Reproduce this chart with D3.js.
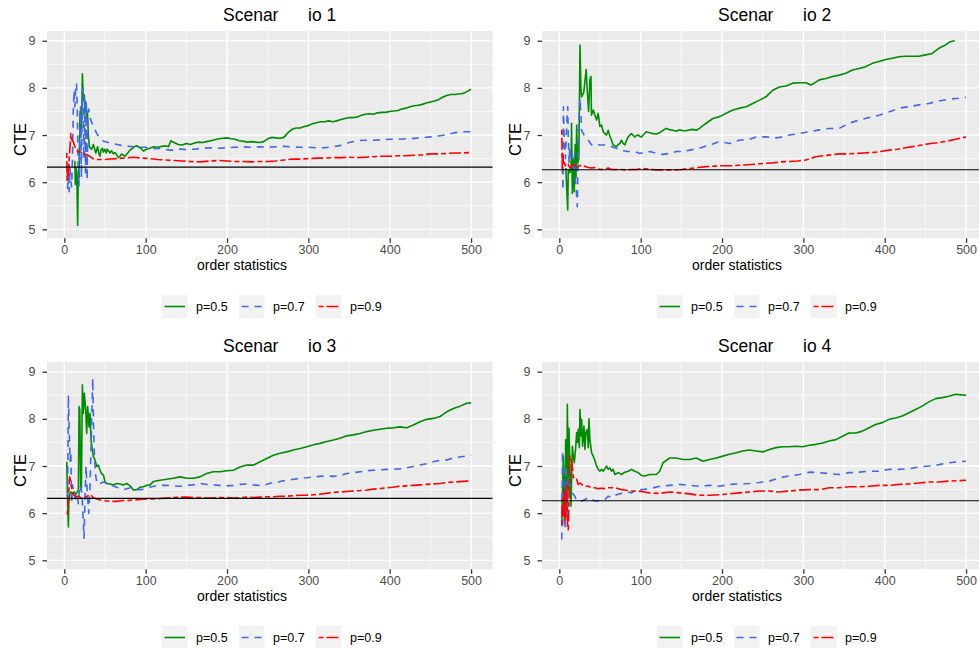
<!DOCTYPE html>
<html><head><meta charset="utf-8">
<script src="https://cdn.jsdelivr.net/npm/d3@7"></script>
<style>body{margin:0;background:#fff}svg{display:block}text{font-family:"Liberation Sans",Arial,Helvetica,sans-serif}</style>
</head><body><svg id="c" width="979" height="648"></svg>
<script>
const seriesNames = ["p=0.5", "p=0.7", "p=0.9"];
const titleWords = [["Scenar", "io 1"], ["Scenar", "io 2"], ["Scenar", "io 3"], ["Scenar", "io 4"]];
const xLabel = "order statistics";
const yLabel = "CTE";
const xTicks = [0, 100, 200, 300, 400, 500];
const yTicks = [5, 6, 7, 8, 9];
const refLines = [6.32, 6.264, 6.315, 6.264];

const s1_p05 = [[13,6.45],[13.5,5.95],[14.5,6.3],[15.5,6.0],[16.4,5.08],[17.2,6.25],[18.2,6.1],[19.3,7.5],[20.2,7.0],[21.2,7.2],[22.2,8.3],[23.4,7.75],[24.5,7.85],[25.4,7.5],[26.5,7.7],[27.5,7.35],[28.5,7.45],[29.5,7.0],[30.8,6.75],[32,6.72],[33.6,6.7],[35.7,6.8],[37,6.72],[38.6,6.62],[40,6.7],[41,6.75],[42.5,6.6],[43.9,6.55],[45,6.68],[46.8,6.72],[48,6.64],[50,6.7],[51.5,6.62],[52.9,6.7],[54.5,6.66],[56.2,6.62],[58,6.67],[60.3,6.6],[62,6.63],[64.4,6.58],[66.4,6.52],[68.5,6.55],[70.5,6.6],[72.6,6.57],[74.6,6.55],[77,6.6],[80.8,6.68],[84,6.72],[86.9,6.76],[89,6.77],[91,6.75],[94,6.72],[97.2,6.66],[101.3,6.7],[105,6.72],[110,6.75],[115,6.74],[120,6.76],[125,6.77],[128,6.75],[131,6.88],[135,6.84],[140,6.8],[145,6.79],[150,6.82],[155,6.8],[160,6.83],[165,6.85],[170,6.84],[175,6.86],[180,6.88],[185,6.9],[190,6.92],[195,6.93],[200,6.94],[205,6.92],[210,6.91],[215,6.88],[220,6.87],[225,6.85],[230,6.86],[235,6.85],[240,6.84],[245,6.86],[250,6.92],[255,6.95],[260,6.94],[265,6.93],[270,6.95],[275,7.05],[280,7.12],[285,7.15],[290,7.15],[295,7.18],[300,7.2],[305,7.24],[310,7.26],[315,7.28],[320,7.28],[325,7.3],[330,7.28],[335,7.3],[340,7.33],[345,7.35],[350,7.37],[355,7.37],[360,7.38],[365,7.42],[370,7.44],[375,7.45],[380,7.44],[385,7.47],[390,7.48],[395,7.48],[400,7.5],[405,7.51],[410,7.52],[415,7.55],[420,7.57],[425,7.6],[430,7.62],[435,7.63],[440,7.65],[445,7.68],[450,7.7],[455,7.72],[460,7.75],[465,7.8],[470,7.84],[475,7.86],[480,7.86],[485,7.87],[490,7.88],[495,7.92],[500,7.97]];
const s1_p07 = [[4,5.85],[5,6.4],[6,5.8],[7,6.3],[8,6.0],[9,5.9],[10,6.5],[11,7.5],[12,7.95],[13,7.6],[14,8.0],[15,8.1],[16,7.5],[17,6.2],[18,5.9],[19,7.0],[20,7.6],[21,6.1],[22,7.9],[23,8.0],[24,6.5],[25,7.8],[26,6.2],[27,7.7],[28,6.05],[29,7.5],[30,7.55],[32,7.35],[35,7.2],[38,7.1],[41,7.0],[44,6.92],[48,6.87],[52,6.85],[56,6.83],[60,6.82],[65,6.8],[70,6.78],[75,6.77],[80,6.76],[85,6.75],[90,6.76],[95,6.74],[100,6.74],[105,6.72],[110,6.71],[115,6.72],[120,6.7],[125,6.69],[130,6.68],[135,6.68],[140,6.7],[145,6.7],[150,6.69],[160,6.7],[170,6.72],[180,6.73],[190,6.72],[200,6.73],[210,6.74],[220,6.75],[230,6.74],[240,6.75],[250,6.74],[260,6.75],[270,6.76],[280,6.75],[290,6.74],[300,6.74],[310,6.73],[320,6.73],[330,6.75],[340,6.78],[350,6.84],[360,6.88],[370,6.89],[380,6.89],[390,6.9],[400,6.91],[410,6.91],[420,6.92],[430,6.93],[440,6.94],[450,6.96],[460,6.98],[470,7.01],[480,7.05],[490,7.07],[500,7.07]];
const s1_p09 = [[3,6.62],[3.5,6.0],[4,6.3],[5,6.1],[6,6.5],[8,7.03],[9,6.9],[11,6.86],[13,6.75],[15,6.68],[17,6.64],[19,6.65],[21,6.62],[23,6.62],[25,6.6],[27.5,6.58],[30,6.56],[32,6.54],[35,6.5],[40,6.48],[45,6.48],[50,6.48],[56,6.49],[64,6.5],[72,6.51],[80,6.52],[85,6.53],[90,6.52],[97,6.51],[105,6.5],[115,6.48],[125,6.47],[135,6.46],[145,6.45],[155,6.44],[167,6.43],[180,6.45],[190,6.46],[200,6.45],[210,6.44],[220,6.44],[230,6.43],[240,6.44],[250,6.44],[260,6.45],[270,6.47],[280,6.49],[290,6.49],[300,6.5],[310,6.51],[320,6.51],[330,6.52],[340,6.52],[350,6.53],[360,6.52],[370,6.53],[380,6.54],[390,6.55],[400,6.55],[410,6.56],[420,6.56],[430,6.57],[440,6.58],[450,6.6],[460,6.6],[470,6.61],[480,6.62],[490,6.62],[500,6.63]];

const s2_p05 = [[8,6.3],[9,5.9],[10.3,5.41],[11,6.26],[13,6.2],[14.5,6.3],[15,7.25],[16,5.76],[17,6.5],[18.4,5.8],[19.5,6.8],[20.5,6.1],[21.3,7.21],[22.5,6.4],[24,6.5],[25.4,8.91],[26.5,8.0],[27.4,7.81],[30,7.9],[33,8.39],[34.8,7.81],[36,7.5],[37.6,8.17],[38.9,8.24],[39.5,7.42],[41.7,7.53],[43.8,7.42],[45.8,7.32],[47.8,7.46],[49.9,7.18],[51.9,7.21],[54,7.07],[56,7.03],[58,7.0],[60.1,7.1],[62,6.98],[64.2,6.89],[66.2,6.79],[68.3,6.77],[70.3,6.75],[72.5,6.8],[74.4,6.82],[76.4,6.89],[78.5,6.82],[80.5,6.79],[82.5,6.88],[84.6,6.96],[86.7,7.0],[88.7,7.03],[90.8,6.99],[92.8,6.96],[94.9,6.99],[96.9,7.0],[99,6.97],[101,6.96],[103,7.0],[107,7.07],[111,7.05],[115.2,7.03],[119,7.02],[123.4,7.05],[127.5,7.1],[131.6,7.14],[135.7,7.11],[139.7,7.1],[143.8,7.08],[148,7.11],[152,7.09],[156.1,7.09],[160.2,7.11],[164.3,7.12],[168.3,7.1],[172.4,7.14],[176.5,7.2],[180.6,7.25],[188.8,7.35],[197,7.39],[205.1,7.46],[213.3,7.53],[221.4,7.57],[229.6,7.6],[237.8,7.67],[246,7.74],[254.1,7.81],[262.3,7.95],[270.5,8.02],[278.6,8.04],[286.8,8.1],[295,8.11],[303.1,8.11],[309.3,8.06],[313.4,8.1],[319.5,8.17],[327.7,8.2],[335.8,8.24],[344,8.27],[352.2,8.31],[360.3,8.38],[368.5,8.41],[376.7,8.45],[384.8,8.52],[393,8.56],[401.2,8.6],[409.4,8.63],[417.5,8.66],[425.7,8.67],[433.9,8.67],[442,8.67],[450.2,8.7],[458.4,8.73],[466.5,8.84],[474.7,8.91],[480.8,8.98],[486,9.0]];
const s2_p07 = [[3.5,6.6],[4.5,5.83],[5,7.6],[6,6.9],[7.5,6.5],[8.5,7.0],[10.3,7.6],[11,7.0],[12,6.4],[13,6.75],[14,6.6],[15,6.5],[16,6.6],[17,6.3],[18,6.45],[19,6.3],[20,6.0],[21,5.8],[22.1,5.48],[23,6.5],[24,7.3],[25.4,7.78],[26.6,7.4],[27.4,7.1],[29.5,7.03],[31.5,6.96],[35.6,6.89],[39.7,6.79],[43.8,6.82],[49.9,6.79],[56,6.79],[64.2,6.75],[70.3,6.72],[76.4,6.67],[84.6,6.65],[92.8,6.65],[98.9,6.61],[105,6.63],[111.2,6.65],[119.3,6.61],[127.5,6.59],[135.7,6.61],[143.8,6.65],[152,6.65],[160.2,6.68],[172.4,6.72],[184.7,6.79],[197,6.86],[209.2,6.82],[221.4,6.89],[233.7,6.91],[241.9,6.96],[254.1,6.96],[266.4,6.94],[274.5,6.96],[282.7,7.0],[295,7.03],[307.2,7.07],[319.5,7.11],[331.7,7.14],[344,7.14],[356.2,7.25],[368.5,7.32],[380.8,7.37],[393,7.42],[405.3,7.49],[417.5,7.57],[429.8,7.6],[442,7.64],[454.3,7.67],[466.5,7.72],[478.8,7.76],[491.1,7.78],[500,7.8]];
const s2_p09 = [[3,7.11],[3.7,6.26],[4.3,6.6],[4.9,6.4],[6,6.45],[7,6.36],[9,6.33],[11,6.38],[13,6.3],[15.2,6.33],[17,6.37],[19.2,6.36],[21,6.3],[23.3,6.33],[25,6.35],[27.4,6.36],[29.5,6.33],[31.5,6.34],[33.5,6.32],[35.6,6.31],[39.7,6.3],[43.8,6.31],[47.8,6.28],[51.9,6.27],[56,6.28],[60,6.3],[64.2,6.27],[70.3,6.27],[76.4,6.27],[82.5,6.26],[88.7,6.27],[94.8,6.27],[101,6.29],[109,6.28],[119.3,6.26],[129.5,6.26],[139.7,6.26],[150,6.27],[160.2,6.29],[170.4,6.31],[180.6,6.33],[190.8,6.34],[201,6.35],[211.2,6.35],[221.4,6.36],[231.6,6.37],[241.9,6.38],[252.1,6.4],[262.3,6.41],[272.5,6.43],[282.7,6.44],[292.9,6.45],[303.1,6.47],[315.4,6.54],[323.6,6.56],[333.8,6.58],[344,6.6],[354.2,6.6],[364.4,6.61],[374.6,6.62],[384.8,6.63],[395,6.65],[405.3,6.68],[415.5,6.7],[425.7,6.73],[435.9,6.76],[446.1,6.79],[456.3,6.82],[466.5,6.84],[476.7,6.87],[487,6.91],[500,6.96]];

const s3_p05 = [[3,7.09],[3.7,6.5],[4.5,6.0],[5,5.71],[5.5,6.2],[6.5,6.4],[8,6.45],[10,6.42],[12,6.45],[14,6.4],[16,6.45],[17.3,6.5],[18.1,8.26],[19,8.2],[20.1,6.5],[21,6.55],[22.2,8.72],[23.4,8.12],[24.6,8.54],[26.3,8.19],[27.5,7.69],[28.7,8.26],[30.4,7.83],[31.6,8.12],[32.8,7.55],[34.5,7.34],[35.7,7.2],[37.7,7.13],[39.8,6.99],[41.8,7.02],[43.9,6.91],[45.9,6.84],[48,6.81],[50,6.67],[52.1,6.63],[56.2,6.62],[60.3,6.6],[64.4,6.63],[68.5,6.62],[72.6,6.6],[76.7,6.63],[80.8,6.58],[84.9,6.49],[89,6.5],[93.1,6.55],[97.2,6.56],[101.3,6.59],[105.4,6.6],[109.5,6.67],[117.7,6.7],[125.9,6.72],[134,6.74],[142.2,6.77],[150.4,6.74],[158.6,6.74],[166.8,6.77],[175,6.84],[183.2,6.88],[191.4,6.88],[199.6,6.9],[207.8,6.91],[216,6.98],[224.2,7.02],[232.4,7.02],[240.6,7.09],[248.8,7.16],[257,7.23],[265.2,7.27],[273.4,7.3],[281.6,7.34],[289.8,7.37],[298,7.41],[306.2,7.45],[314.4,7.48],[322.5,7.52],[330.7,7.55],[338.9,7.59],[347.1,7.64],[355.3,7.66],[363.5,7.69],[371.7,7.73],[379.9,7.76],[388.1,7.78],[396.3,7.8],[404.5,7.81],[412.7,7.83],[420.9,7.81],[429.1,7.87],[437.3,7.94],[445.5,7.99],[453.7,8.01],[461.9,8.05],[470.1,8.15],[478.3,8.22],[486.5,8.27],[494.7,8.33],[500,8.34]];
const s3_p07 = [[4,6.3],[5,8.5],[6,7.8],[7,7.1],[8,7.3],[9,6.2],[10,6.6],[12,6.4],[14,6.3],[16,6.4],[17.2,6.2],[19,6.6],[21,6.5],[22,6.3],[24.2,5.47],[25.5,6.4],[26.7,7.0],[28,6.5],[30,6.0],[31.5,6.5],[33,7.5],[34.9,8.86],[36,7.76],[37,7.2],[38.5,6.8],[40,6.65],[43,6.6],[46,6.65],[49,6.66],[53,6.62],[56,6.6],[60,6.58],[64,6.55],[68,6.53],[73,6.5],[77,6.52],[81,6.54],[85,6.53],[90,6.5],[95,6.5],[100,6.52],[105,6.55],[110,6.57],[118,6.59],[125,6.59],[134,6.58],[142,6.57],[150,6.59],[158,6.6],[167,6.63],[175,6.61],[183,6.6],[191,6.59],[200,6.58],[208,6.59],[216,6.61],[224,6.62],[232,6.6],[240,6.59],[248,6.61],[257,6.65],[265,6.67],[273,6.7],[282,6.72],[290,6.74],[298,6.75],[306,6.77],[314,6.78],[322,6.79],[331,6.78],[339,6.8],[347,6.84],[355,6.86],[364,6.88],[372,6.9],[380,6.91],[388,6.92],[396,6.93],[404,6.93],[412,6.94],[420,6.96],[429,6.99],[437,7.02],[445,7.05],[453,7.09],[462,7.12],[470,7.13],[478,7.17],[486,7.19],[494,7.21],[500,7.23]];
const s3_p09 = [[3,6.0],[3.7,5.98],[4.5,6.3],[5.5,6.45],[6.5,6.77],[7.5,6.7],[8.5,6.6],[10,6.45],[12,6.38],[15,6.35],[17,6.36],[19,6.34],[21,6.32],[23,6.31],[25,6.33],[27,6.35],[29,6.37],[31.6,6.4],[33.5,6.37],[36,6.32],[40,6.3],[44,6.28],[48,6.27],[52,6.26],[56,6.25],[60,6.25],[64,6.25],[68,6.26],[73,6.27],[78,6.27],[85,6.28],[93,6.29],[101,6.3],[110,6.3],[118,6.31],[126,6.32],[134,6.33],[142,6.34],[150,6.34],[158,6.33],[167,6.33],[175,6.32],[183,6.32],[191,6.33],[200,6.33],[208,6.32],[216,6.33],[224,6.34],[232,6.33],[240,6.34],[249,6.35],[257,6.35],[265,6.36],[273,6.36],[282,6.37],[290,6.38],[298,6.38],[306,6.39],[314,6.4],[322,6.42],[331,6.44],[339,6.45],[347,6.46],[355,6.47],[364,6.48],[372,6.49],[380,6.51],[388,6.52],[396,6.54],[404,6.55],[412,6.57],[420,6.58],[429,6.59],[437,6.6],[445,6.61],[453,6.62],[462,6.63],[470,6.65],[478,6.66],[486,6.67],[494,6.68],[500,6.69]];

const s4_p05 = [[3,5.73],[4,6.5],[4.9,7.21],[5.8,6.5],[7,5.9],[7.8,7.56],[9,5.94],[9.85,8.31],[11.1,6.5],[11.9,7.8],[13.1,6.86],[14.3,6.15],[16,7.42],[17.2,7.21],[18.4,7.07],[20.1,7.39],[21.3,7.71],[22.1,7.5],[23.3,7.78],[24.6,7.39],[25.4,8.2],[26.6,7.64],[27.4,7.99],[28.6,7.42],[30.3,7.85],[31.5,7.35],[32.7,7.71],[34.4,7.78],[35.6,7.39],[36.4,8.0],[37.6,7.56],[39.7,7.28],[41.7,7.21],[43.8,7.11],[45.8,7.0],[47.8,6.93],[49.9,6.89],[51.9,6.93],[54,6.89],[56,6.94],[58,7.0],[60.1,6.93],[62.1,6.96],[64.2,6.89],[66.2,6.93],[68.3,6.82],[72.4,6.86],[76.4,6.82],[80.5,6.87],[84.6,6.89],[88.7,6.93],[92.8,6.89],[96.9,6.86],[101,6.8],[105,6.79],[111.2,6.82],[119.3,6.82],[123.4,6.89],[127.5,7.07],[135.7,7.17],[143.8,7.17],[152,7.14],[160.2,7.14],[168.3,7.17],[176.5,7.1],[184.7,7.14],[192.9,7.17],[201,7.21],[209.2,7.25],[217.4,7.28],[225.5,7.32],[233.7,7.34],[241.9,7.32],[250.1,7.3],[258.2,7.35],[266.4,7.39],[274.5,7.41],[282.7,7.41],[290.9,7.42],[299,7.41],[307.2,7.44],[315.4,7.46],[323.6,7.49],[331.7,7.53],[339.9,7.56],[348.1,7.63],[356.2,7.7],[364.4,7.7],[372.6,7.74],[380.8,7.81],[388.9,7.88],[397.1,7.92],[405.3,7.99],[413.4,8.02],[421.6,8.06],[429.8,8.13],[438,8.2],[446.1,8.27],[454.3,8.36],[462.5,8.43],[470.6,8.45],[478.8,8.48],[487,8.52],[500,8.5]];
const s4_p07 = [[3,5.44],[3.5,6.5],[4,7.32],[5,6.2],[6,5.8],[7,5.66],[7.5,6.5],[8.5,7.0],[9.5,5.94],[10.5,6.5],[11.5,6.79],[13,6.58],[14.5,6.5],[16,6.43],[19,6.36],[21.3,6.26],[23.3,6.26],[27.4,6.26],[31.5,6.29],[35.6,6.33],[39.7,6.29],[43.8,6.26],[47.8,6.26],[51.9,6.29],[56,6.29],[60.1,6.36],[64.2,6.33],[68.3,6.38],[72.4,6.4],[76.4,6.42],[80.5,6.43],[84.6,6.45],[88.7,6.43],[92.8,6.47],[96.9,6.48],[101,6.5],[111.2,6.52],[123.4,6.57],[135.7,6.59],[147.9,6.61],[160.2,6.59],[172.4,6.57],[184.7,6.59],[197,6.57],[209.2,6.61],[221.4,6.62],[233.7,6.63],[246,6.65],[258.2,6.68],[270.5,6.75],[282.7,6.79],[295,6.82],[307.2,6.87],[319.5,6.86],[331.7,6.84],[344,6.82],[356.2,6.86],[368.5,6.87],[380.8,6.89],[393,6.89],[405.3,6.93],[417.5,6.93],[429.8,6.94],[442,6.98],[454.3,7.0],[466.5,7.03],[478.8,7.07],[491.1,7.09],[500,7.1]];
const s4_p09 = [[3,5.75],[4,6.3],[5,5.9],[6,6.5],[7,5.85],[8,6.2],[9,6.6],[10,5.7],[11,5.65],[12,6.4],[13,7.21],[14.3,7.15],[16,7.0],[17.2,6.75],[19.2,6.77],[21.3,6.72],[23.3,6.61],[25.4,6.64],[27.4,6.61],[31.5,6.57],[35.6,6.57],[39.7,6.54],[43.8,6.54],[47.8,6.52],[51.9,6.53],[56,6.52],[60.1,6.54],[64.2,6.54],[68.3,6.54],[72.4,6.52],[76.4,6.5],[80.5,6.49],[88.7,6.47],[96.9,6.47],[105,6.45],[111,6.43],[123,6.42],[136,6.45],[148,6.43],[160,6.41],[172,6.38],[185,6.38],[197,6.39],[209,6.41],[221,6.43],[234,6.45],[246,6.47],[258,6.47],[270,6.45],[283,6.47],[295,6.49],[307,6.5],[320,6.5],[332,6.54],[344,6.54],[356,6.56],[368,6.56],[381,6.57],[393,6.59],[405,6.59],[418,6.61],[430,6.62],[442,6.64],[454,6.66],[466,6.66],[479,6.68],[491,6.69],[500,6.7]];

const panelSeries = [[s1_p05, s1_p07, s1_p09], [s2_p05, s2_p07, s2_p09], [s3_p05, s3_p07, s3_p09], [s4_p05, s4_p07, s4_p09]];

// ---- styling / layout ----
const colors = ["#008B00", "#4169E1", "#FF0000"];
const dashes = [null, "7,6", "5,3,12,3"];
const PW = 445.7, PH = 207.3;
const svg = d3.select("#c");

panelSeries.forEach((series, i) => {
  const col = i % 2, row = Math.floor(i / 2);
  const x0 = 47 + col * 495, y0 = 31 + row * 331;
  const x = d3.scaleLinear().domain([-21.3, 526.6]).range([x0, x0 + PW]);
  const y = d3.scaleLinear().domain([4.81, 9.206]).range([y0 + PH, y0]);
  const g = svg.append("g");
  const cid = "clip" + i;
  svg.append("clipPath").attr("id", cid).append("rect")
    .attr("x", x0).attr("y", y0).attr("width", PW).attr("height", PH);

  g.append("rect").attr("x", x0).attr("y", y0).attr("width", PW).attr("height", PH).attr("fill", "#EBEBEB");
  const minorX = [50, 150, 250, 350, 450], minorY = [5.5, 6.5, 7.5, 8.5];
  g.selectAll(null).data(minorX).join("line").attr("x1", d => x(d)).attr("x2", d => x(d))
    .attr("y1", y0).attr("y2", y0 + PH).attr("stroke", "#fff").attr("stroke-width", 0.7);
  g.selectAll(null).data(minorY).join("line").attr("y1", d => y(d)).attr("y2", d => y(d))
    .attr("x1", x0).attr("x2", x0 + PW).attr("stroke", "#fff").attr("stroke-width", 0.7);
  g.selectAll(null).data(xTicks).join("line").attr("x1", d => x(d)).attr("x2", d => x(d))
    .attr("y1", y0).attr("y2", y0 + PH).attr("stroke", "#fff").attr("stroke-width", 1.4);
  g.selectAll(null).data(yTicks).join("line").attr("y1", d => y(d)).attr("y2", d => y(d))
    .attr("x1", x0).attr("x2", x0 + PW).attr("stroke", "#fff").attr("stroke-width", 1.4);

  const line = d3.line().x(d => x(d[0])).y(d => y(d[1]));
  const lg = g.append("g").attr("clip-path", `url(#${cid})`);
  series.forEach((s, k) => {
    lg.append("path").datum(s).attr("d", line).attr("fill", "none")
      .attr("stroke", colors[k]).attr("stroke-width", 1.6)
      .attr("stroke-linejoin", "round")
      .attr("stroke-dasharray", dashes[k]);
  });
  lg.append("line").attr("x1", x0).attr("x2", x0 + PW)
    .attr("y1", y(refLines[i])).attr("y2", y(refLines[i]))
    .attr("stroke", "#000").attr("stroke-width", 1.1);

  // axes
  const ax = g.append("g").attr("transform", `translate(0,${y0 + PH})`)
    .call(d3.axisBottom(x).tickValues(xTicks).tickFormat(d3.format("d")).tickSize(4.5).tickPadding(2.5));
  const ay = g.append("g").attr("transform", `translate(${x0},0)`)
    .call(d3.axisLeft(y).tickValues(yTicks).tickFormat(d3.format("d")).tickSize(4.5).tickPadding(7));
  [ax, ay].forEach(a => {
    a.select(".domain").remove();
    a.selectAll(".tick line").attr("stroke", "#333").attr("stroke-width", 1.3);
    a.selectAll(".tick text").attr("fill", "#4D4D4D").style("font-size", "12.5px")
      .style("font-family", '"Liberation Sans",Arial,sans-serif');
  });

  // titles
  const t = g.append("text").attr("y", y0 - 10).style("font-size", "17.5px").attr("fill", "#000");
  t.append("tspan").attr("x", x0 + 176).text(titleWords[i][0]);
  t.append("tspan").attr("x", x0 + 261).text(titleWords[i][1]);

  g.append("text").attr("transform", `translate(${x0 - 21},${y0 + 108.5}) rotate(-90)`)
    .attr("text-anchor", "middle").style("font-size", "16.5px").text(yLabel);
  g.append("text").attr("x", x0 + 195).attr("y", y0 + 239).attr("text-anchor", "middle")
    .attr("textLength", 90).attr("lengthAdjust", "spacingAndGlyphs")
    .style("font-size", "15px").text(xLabel);

  // legend
  const keyX = [115, 192, 269];
  seriesNames.forEach((nm, k) => {
    const kx = x0 + keyX[k], ky = y0 + 264;
    g.append("rect").attr("x", kx).attr("y", ky).attr("width", 25.5).attr("height", 23).attr("fill", "#F2F2F2");
    g.append("line").attr("x1", kx + 2.5).attr("x2", kx + 23).attr("y1", ky + 11.5).attr("y2", ky + 11.5)
      .attr("stroke", colors[k]).attr("stroke-width", 1.6).attr("stroke-dasharray", dashes[k]);
    g.append("text").attr("x", kx + 34).attr("y", ky + 11.5).attr("dy", "0.35em")
      .style("font-size", "12.5px").attr("fill", "#000").text(nm);
  });
});
</script></body></html>
